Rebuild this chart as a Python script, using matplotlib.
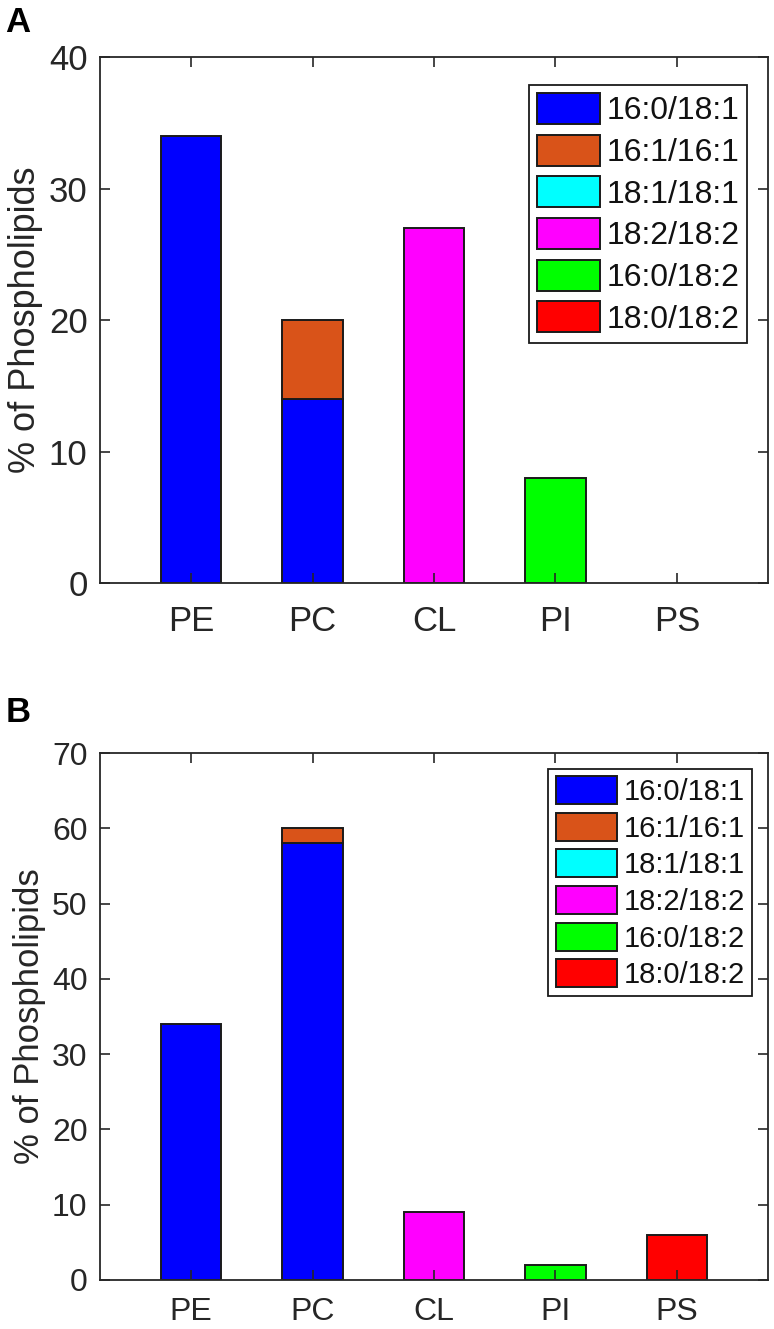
import numpy as np
import matplotlib.pyplot as plt

plt.rcParams['font.family'] = ['Liberation Sans', 'DejaVu Sans']

classes = ['PE', 'PC', 'CL', 'PI', 'PS']
species = ['16:0/18:1', '16:1/16:1', '18:1/18:1', '18:2/18:2', '16:0/18:2', '18:0/18:2']
colors = ['#0000FF', '#D95319', '#00FFFF', '#FF00FF', '#00FF00', '#FF0000']

# rows = species, cols = classes
vals_A = [[34, 14, 0, 0, 0],
          [0, 6, 0, 0, 0],
          [0, 0, 0, 0, 0],
          [0, 0, 27, 0, 0],
          [0, 0, 0, 8, 0],
          [0, 0, 0, 0, 0]]
vals_B = [[34, 58, 0, 0, 0],
          [0, 2, 0, 0, 0],
          [0, 0, 0, 0, 0],
          [0, 0, 9, 0, 0],
          [0, 0, 0, 2, 0],
          [0, 0, 0, 0, 6]]

fig = plt.figure(figsize=(7.74, 13.29), dpi=100)
axA = fig.add_axes([0.1292, 0.5613, 0.863, 0.3958])
axB = fig.add_axes([0.1292, 0.0369, 0.863, 0.3965])


def draw(ax, vals, ymax, tfs, yfs, lfs, xpad, anchor, hl, hh, ls):
    x = np.arange(1, len(classes) + 1)
    bottom = np.zeros(len(classes))
    for i, sp in enumerate(species):
        v = np.array(vals[i], dtype=float)
        # zero-height bars get no outline
        lw = np.where(v > 0, 1.4, 0.0)
        ax.bar(x, v, 0.5, bottom=bottom, color=colors[i], edgecolor='#1a1a1a',
               linewidth=lw, label=sp)
        bottom += v
    ax.set_xlim(0.25, 5.75)
    ax.set_ylim(0, ymax)
    ax.set_yticks(np.arange(0, ymax + 1, 10))
    ax.set_xticks(x)
    ax.set_xticklabels(classes)
    ax.tick_params(direction='in', top=True, right=True, length=7,
                   width=1.2, labelsize=tfs, colors='#262626')
    ax.tick_params(axis='y', pad=9)
    ax.tick_params(axis='x', pad=xpad)
    for s in ax.spines.values():
        s.set_color('#262626')
        s.set_linewidth(1.3)
    ax.set_ylabel('% of Phospholipids', fontsize=yfs, color='#262626',
                  labelpad=4)
    leg = ax.legend(loc='upper right', bbox_to_anchor=anchor, fontsize=lfs,
                    handlelength=hl, handleheight=hh, handletextpad=0.2,
                    labelspacing=ls, borderpad=0.25, borderaxespad=0,
                    fancybox=False, framealpha=1, edgecolor='#1a1a1a')
    leg.get_frame().set_linewidth(1.3)
    for h in leg.legend_handles:
        h.set_linewidth(1.4)
    for t in leg.get_texts():
        t.set_color('#111111')


draw(axA, vals_A, 40, 25, 26, 23, 16, (0.969, 0.947), 1.97, 1.12, 0.26)
draw(axB, vals_B, 70, 23, 25, 21, 12, (0.976, 0.970), 2.12, 1.10, 0.23)

fig.text(0.007, 1 - 6 / 1329, 'A', fontsize=25, fontweight='bold', va='top')
fig.text(0.007, 1 - 696 / 1329, 'B', fontsize=25, fontweight='bold', va='top')

fig.savefig('out.png', dpi=100)
